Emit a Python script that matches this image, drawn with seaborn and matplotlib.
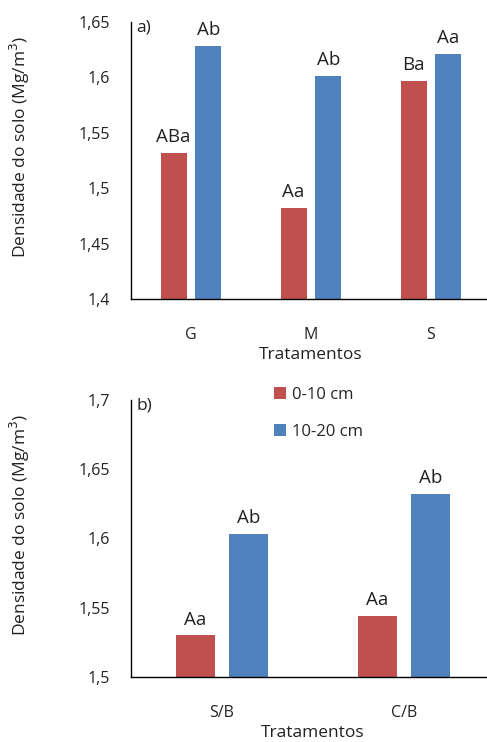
import matplotlib
matplotlib.use("Agg")
import matplotlib.pyplot as plt
import seaborn as sns
import pandas as pd

# ---- data ----
cats_a = ["G", "M", "S"]
vals_a_0_10 = [1.532, 1.482, 1.597]
vals_a_10_20 = [1.628, 1.601, 1.621]
labels_a_0_10 = ["ABa", "Aa", "Ba"]
labels_a_10_20 = ["Ab", "Ab", "Aa"]

cats_b = ["S/B", "C/B"]
vals_b_0_10 = [1.530, 1.544]
vals_b_10_20 = [1.603, 1.632]
labels_b_0_10 = ["Aa", "Aa"]
labels_b_10_20 = ["Ab", "Ab"]

series = ["0-10 cm", "10-20 cm"]
yticks_a = [1.4, 1.45, 1.5, 1.55, 1.6, 1.65]
yticks_b = [1.5, 1.55, 1.6, 1.65, 1.7]
ytick_labels_a = ["1,4", "1,45", "1,5", "1,55", "1,6", "1,65"]
ytick_labels_b = ["1,5", "1,55", "1,6", "1,65", "1,7"]

colors = {"0-10 cm": "#C0504D", "10-20 cm": "#4F81BD"}

sns.set_theme(style="white")
plt.rcParams["font.family"] = ["Open Sans", "DejaVu Sans"]

def make_df(cats, v1, v2):
    rows = []
    for c, a, b in zip(cats, v1, v2):
        rows.append({"Tratamento": c, "Camada": series[0], "Densidade": a})
        rows.append({"Tratamento": c, "Camada": series[1], "Densidade": b})
    return pd.DataFrame(rows)

df_a = make_df(cats_a, vals_a_0_10, vals_a_10_20)
df_b = make_df(cats_b, vals_b_0_10, vals_b_10_20)

W, H = 487, 742
fig = plt.figure(figsize=(W / 100, H / 100), dpi=100)

def px_axes(left, top, right, bottom):
    return fig.add_axes([left / W, 1 - bottom / H, (right - left) / W, (bottom - top) / H])

ax1 = px_axes(131, 22, 491, 299)
ax2 = px_axes(131, 400, 495, 677)

TXT = "#222222"

def draw(ax, df, cats, lab1, lab2, ylim, yticks, yticklabels, tag, legend):
    sns.barplot(data=df, x="Tratamento", y="Densidade", hue="Camada",
                order=cats, hue_order=series, palette=colors,
                width=0.58, gap=0.25, ax=ax, legend=legend,
                edgecolor="none", saturation=1)
    ax.set_ylim(*ylim)
    ax.set_xlim(-0.5, len(cats) - 0.5)
    ax.set_yticks(yticks)
    ax.set_yticklabels(yticklabels)
    ax.tick_params(axis="both", length=0, labelsize=11.5, colors=TXT)
    ax.tick_params(axis="x", pad=20)
    ax.tick_params(axis="y", pad=15)
    for s in ["top", "right"]:
        ax.spines[s].set_visible(False)
    for s in ["left", "bottom"]:
        ax.spines[s].set_color("black")
        ax.spines[s].set_linewidth(1.0)
    ax.set_xlabel("Tratamentos", fontsize=12.5, color=TXT, labelpad=3)
    ax.set_ylabel("Densidade do solo (Mg/m$^3$)", fontsize=12.5, color=TXT)
    # position y-label in pixels: x center ~20px, slightly above axes middle
    ax.yaxis.set_label_coords(-(131 - 20) / ax.bbox.width * 1.0, 0.55)
    ax.yaxis.label.set_va("center")
    for cont, labs in zip(ax.containers, [lab1, lab2]):
        ax.bar_label(cont, labels=labs, padding=5, fontsize=13.5, color=TXT)
    ax.text(0.015, 1.01, tag, transform=ax.transAxes, fontsize=12.5, va="top", ha="left", color=TXT)

draw(ax1, df_a, cats_a, labels_a_0_10, labels_a_10_20, (1.4, 1.65), yticks_a, ytick_labels_a, "a)", False)
draw(ax2, df_b, cats_b, labels_b_0_10, labels_b_10_20, (1.5, 1.7), yticks_b, ytick_labels_b, "b)", True)

leg = ax2.get_legend()
handles = leg.legend_handles
leg.remove()
ax2.legend(handles, series, loc="upper left", bbox_to_anchor=(274 / W, 1 - 387 / H),
           bbox_transform=fig.transFigure, frameon=False, fontsize=12,
           handlelength=0.7, handleheight=0.7, handletextpad=0.4, labelspacing=1.25,
           borderpad=0, borderaxespad=0)

fig.savefig("out.png", dpi=100)
